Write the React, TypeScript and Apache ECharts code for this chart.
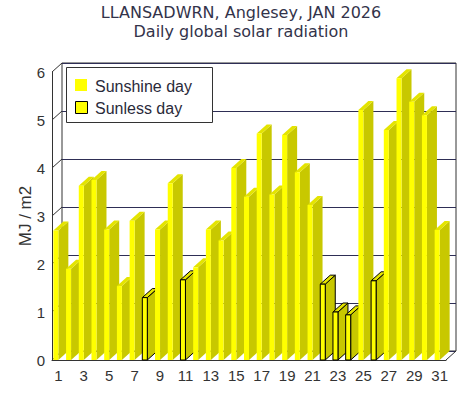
import React, { useEffect, useRef } from 'react';
import * as echarts from 'echarts';

const days = ['1','2','3','4','5','6','7','8','9','10','11','12','13','14','15','16','17','18','19','20','21','22','23','24','25','26','27','28','29','30','31'];
const radiation = [2.7,1.9,3.63,3.75,2.72,1.54,2.9,1.3,2.72,3.68,1.67,1.93,2.72,2.49,4.0,3.4,4.72,3.45,4.69,3.91,3.23,1.58,1.0,0.94,5.21,1.65,4.79,5.87,5.38,5.1,2.71];
const sunlessDays = ['8','11','22','23','24','26'];
const yTicks = [0,1,2,3,4,5,6];
const seriesNames = ['Sunshine day','Sunless day'];
const titleLines = ['LLANSADWRN, Anglesey, JAN 2026','Daily global solar radiation'];

const DX = 10, DY = -9, FW = 5;
const FRONT = '#ffff00', SIDE = '#c8c800', TOP = '#e4e400';

function makeBarRenderer(outlined: boolean) {
  return (params: any, api: any) => {
    const idx = api.value(0);
    const val = api.value(1);
    const base = api.coord([idx, 0]);
    const top = api.coord([idx, val]);
    const x1 = base[0];
    const x0 = x1 - FW;
    const y0 = base[1];
    const y1 = top[1];
    const stroke = outlined ? '#000' : null;
    return {
      type: 'group',
      children: [
        { type: 'polygon', z2: idx * 3, shape: { points: [[x1, y0], [x1 + DX, y0 + DY], [x1 + DX, y1 + DY], [x1, y1]] }, style: { fill: SIDE, stroke, lineWidth: 1 } },
        { type: 'polygon', z2: idx * 3 + 1, shape: { points: [[x0, y1], [x1, y1], [x1 + DX, y1 + DY], [x0 + DX, y1 + DY]] }, style: { fill: TOP, stroke, lineWidth: 1 } },
        { type: 'rect', z2: idx * 3 + 2, shape: { x: x0, y: y1, width: FW, height: y0 - y1 }, style: { fill: FRONT, stroke, lineWidth: 1 } },
      ],
    };
  };
}

function renderConnector(params: any, api: any) {
  const v = api.value(1);
  const cs = params.coordSys;
  const y = api.coord([0, v])[1];
  const children: any[] = [
    { type: 'line', shape: { x1: cs.x, y1: y, x2: cs.x + DX, y2: y + DY }, style: { stroke: '#333', lineWidth: 1 } },
  ];
  if (v === 0) {
    children.push({ type: 'line', shape: { x1: cs.x + cs.width, y1: y, x2: cs.x + cs.width + DX, y2: y + DY }, style: { stroke: '#333', lineWidth: 1 } });
  }
  return { type: 'group', children };
}

export default function App() {
  const ref = useRef<HTMLDivElement>(null);
  useEffect(() => {
    const chart = echarts.init(ref.current!, null, { renderer: 'svg' });
    const sunshineData: any[] = [];
    const sunlessData: any[] = [];
    radiation.forEach((v, i) => {
      if (sunlessDays.includes(days[i])) sunlessData.push([i, v]);
      else sunshineData.push([i, v]);
    });
    const labelStyle = { fontFamily: 'Liberation Sans', fontSize: 15, color: '#333' };
    chart.setOption({
      animation: false,
      backgroundColor: '#fff',
      title: {
        text: titleLines.join('\n'),
        left: 241,
        textAlign: 'center',
        top: 3,
        padding: 0,
        textStyle: { fontFamily: 'DejaVu Sans', fontSize: 16, fontWeight: 'normal', color: '#33334a', lineHeight: 19 },
      },
      grid: [
        { left: 52, top: 72, width: 394, height: 288, show: false },
        { left: 62, top: 63, width: 394, height: 288, show: true, borderColor: '#333', borderWidth: 1, backgroundColor: '#fff', z: 0 },
      ],
      xAxis: [
        {
          type: 'category', gridIndex: 0, data: days,
          axisLine: { show: true, lineStyle: { color: '#333', width: 1 } },
          axisTick: { show: false },
          axisLabel: { ...labelStyle, interval: 1, margin: 8 },
        },
        { type: 'category', gridIndex: 1, data: days, show: false },
      ],
      yAxis: [
        {
          type: 'value', gridIndex: 0, min: 0, max: 6, interval: 1,
          axisLine: { show: true, lineStyle: { color: '#333', width: 1 } },
          axisTick: { show: false },
          splitLine: { show: false },
          axisLabel: { ...labelStyle, margin: 7 },
          name: 'MJ / m2', nameLocation: 'middle', nameGap: 18, nameMoveOverlap: false,
          nameTextStyle: { fontFamily: 'Liberation Sans', fontSize: 17, color: '#333' },
        },
        {
          type: 'value', gridIndex: 1, min: 0, max: 6, interval: 1,
          axisLine: { show: false }, axisTick: { show: false }, axisLabel: { show: false },
          splitLine: { show: true, lineStyle: { color: '#2e2e55', width: 1 } },
        },
      ],
      series: [
        {
          type: 'custom', name: 'connectors', xAxisIndex: 0, yAxisIndex: 0, silent: true, z: 1,
          data: yTicks.map((v) => [0, v]),
          renderItem: renderConnector,
        },
        {
          type: 'custom', name: seriesNames[0], xAxisIndex: 0, yAxisIndex: 0, z: 3,
          data: sunshineData, renderItem: makeBarRenderer(false),
        },
        {
          type: 'custom', name: seriesNames[1], xAxisIndex: 0, yAxisIndex: 0, z: 3,
          data: sunlessData, renderItem: makeBarRenderer(true),
        },
      ],
      graphic: [
        { type: 'rect', z: 100, shape: { x: 66.5, y: 67.5, width: 146, height: 55 }, style: { fill: '#fff', stroke: '#333', lineWidth: 1 } },
        { type: 'rect', z: 101, shape: { x: 75, y: 79, width: 12, height: 12 }, style: { fill: FRONT } },
        { type: 'text', z: 101, x: 95, y: 86, style: { text: seriesNames[0], fill: '#2a2a3a', fontFamily: 'Liberation Sans', fontSize: 16, verticalAlign: 'middle' } },
        { type: 'rect', z: 101, shape: { x: 75.5, y: 101.5, width: 12, height: 12 }, style: { fill: FRONT, stroke: '#000', lineWidth: 1 } },
        { type: 'text', z: 101, x: 95, y: 108, style: { text: seriesNames[1], fill: '#2a2a3a', fontFamily: 'Liberation Sans', fontSize: 16, verticalAlign: 'middle' } },
      ],
    });
    return () => chart.dispose();
  }, []);
  return <div ref={ref} style={{ position: 'fixed', left: 0, top: 0, width: 468, height: 393 }} />;
}
